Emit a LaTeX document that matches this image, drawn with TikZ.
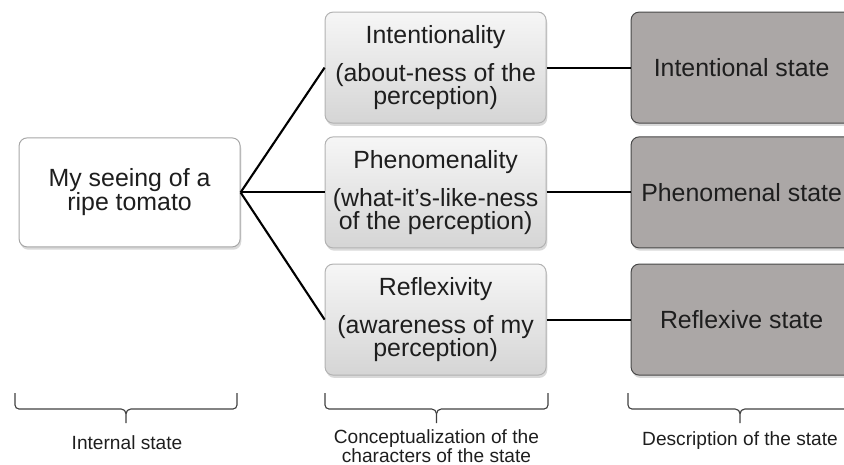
\documentclass[tikz,border=0pt]{standalone}
\usepackage{fontspec}
\setmainfont{Liberation Sans}
\usetikzlibrary{calc,shadows}
\definecolor{midtop}{HTML}{F6F6F6}
\definecolor{midbot}{HTML}{D5D5D5}
\definecolor{midline}{HTML}{B2B2B2}
\definecolor{statefill}{HTML}{ABA7A6}
\definecolor{stateline}{HTML}{484848}
\definecolor{leftline}{HTML}{A6A6A6}
\definecolor{textgray}{HTML}{1E1E1E}
\tikzset{
  boxbase/.style={rectangle, rounded corners=0.2cm, minimum width=5.525cm, inner sep=0pt,
    align=center, text=textgray, line width=0.7pt,
    drop shadow={shadow xshift=0.03cm, shadow yshift=-0.07cm, opacity=0.3}},
  seeing/.style={boxbase, draw=leftline, fill=white, minimum height=2.725cm,
    font=\fontsize{17.7}{17}\selectfont},
  character/.style={boxbase, draw=midline, top color=midtop, bottom color=midbot,
    minimum height=2.775cm, font=\fontsize{17.7}{16.5}\selectfont},
  described/.style={boxbase, draw=stateline, fill=statefill, minimum height=2.775cm,
    font=\fontsize{17.7}{16.5}\selectfont},
  link/.style={line width=1.5pt, black},
  brace line/.style={line width=0.8pt, color=black!75},
  caption/.style={align=center, text=textgray, font=\fontsize{13.6}{13.8}\selectfont}
}
\def\statebrace#1#2{%
  \pgfmathsetmacro\bleft{#1}\pgfmathsetmacro\bright{#2}%
  \pgfmathsetmacro\bmid{(#1+#2)/2}%
  \draw[brace line] (\bleft,1.775) -- ++(0,-0.3) to[out=-90,in=180] ++(0.1,-0.1)
    -- (\bmid-0.12,1.375) to[out=0,in=90] (\bmid,1.255) -- (\bmid,1.025);
  \draw[brace line] (\bright,1.775) -- ++(0,-0.3) to[out=-90,in=0] ++(-0.1,-0.1)
    -- (\bmid+0.12,1.375) to[out=180,in=90] (\bmid,1.255);
}

\begin{document}
\begin{tikzpicture}
		%%%%% START %%%%%
		\useasboundingbox (0, 0) rectangle (21.1, 11.6);
		
		\node[seeing] (seeing) at (3.24, 6.79) {My seeing of a\\ripe tomato};
		
		\node[character] (intent) at (10.89, 9.91) {Intentionality\\[10.5pt](about-ness of the\\perception)};
		\node[character] (phenom) at (10.89, 6.79) {Phenomenality\\[10.5pt](what-it’s-like-ness\\of the perception)};
		\node[character] (reflex) at (10.89, 3.61) {Reflexivity\\[10.5pt](awareness of my\\perception)};
		
		\node[described] (intentstate) at (18.54, 9.91) {Intentional state};
		\node[described] (phenomstate) at (18.54, 6.79) {Phenomenal state};
		\node[described] (reflexstate) at (18.54, 3.61) {Reflexive state};
		
		\draw[link] (seeing.east) -- (intent.west);
		\draw[link] (seeing.east) -- (phenom.west);
		\draw[link] (seeing.east) -- (reflex.west);
		
		\draw[link] (intent.east) -- (intentstate.west);
		\draw[link] (phenom.east) -- (phenomstate.west);
		\draw[link] (reflex.east) -- (reflexstate.west);
		
		\statebrace{0.375}{5.925}
		\statebrace{8.125}{13.7}
		\statebrace{15.7}{21.3}
		
		\node[caption] (internal) at (3.175, 0.53) {Internal state};
		\node[caption] (concept) at (10.91, 0.45) {Conceptualization of the\\characters of the state};
		\node[caption] (descript) at (18.5, 0.58) {Description of the state};
		
		%%%%% END %%%%%
	\end{tikzpicture}
\end{document}
